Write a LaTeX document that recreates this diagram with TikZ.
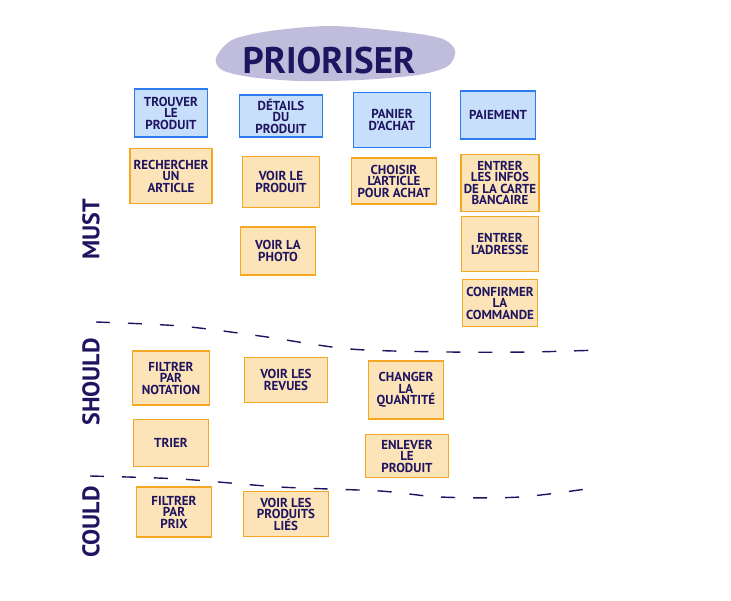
\documentclass[tikz,border=0pt]{standalone}
\usepackage{fontspec}
\setmainfont{PT Sans}
\usetikzlibrary{shapes,positioning}

\definecolor{encre}{RGB}{30,20,96}
\definecolor{nuage}{RGB}{192,188,220}
\definecolor{fondEpopee}{RGB}{200,223,251}
\definecolor{bordEpopee}{RGB}{44,123,240}
\definecolor{fondTache}{RGB}{253,228,184}
\definecolor{bordTache}{RGB}{245,166,35}

\begin{document}
\begin{tikzpicture}
	[x=1pt,y=-1pt,every node/.style={align=center,text=encre,
	font=\bfseries\fontsize{13}{11.5}\selectfont},
	tache/.style={draw=bordTache,fill=fondTache,line width=1.6pt,inner sep=1pt,
	minimum width=77pt,minimum height=48pt},
	epopee/.style={tache,draw=bordEpopee,fill=fondEpopee},
	bande/.style={rotate=90,font=\bfseries\fontsize{24}{24}\selectfont},
	limite/.style={draw=encre,line width=1.4pt,dash pattern=on 14pt off 18pt}]
	\useasboundingbox (0,0) rectangle (731,600);

	% titre
	\fill[nuage] plot[smooth cycle] coordinates {(216,58) (232,40) (270,31)
	(330,26) (395,31) (440,38) (455,50) (448,66) (418,75) (360,80) (300,81)
	(250,77) (222,70)};
	\node[font=\bfseries\fontsize{37}{37}\selectfont] (titre) at (329,61) {PRIORISER};

	% epopees
	\node[epopee,minimum width=73pt] (trouver) at (171,113) {TROUVER\\LE\\PRODUIT};
	\node[epopee,minimum width=83pt,minimum height=42pt] (details) at (281,116) {DÉTAILS\\DU\\PRODUIT};
	\node[epopee,minimum height=55pt] (panier) at (392,120) {PANIER\\D'ACHAT};
	\node[epopee,minimum width=75pt] (paiement) at (498,115) {PAIEMENT};

	% must
	\node[tache,minimum width=82pt,minimum height=55pt] (rechercher) at (171,176) {RECHERCHER\\UN\\ARTICLE};
	\node[tache,minimum height=51pt] (voirProduit) at (281,182) {VOIR LE\\PRODUIT};
	\node[tache,minimum width=85pt,minimum height=46pt] (choisir) at (394,181) {CHOISIR\\L'ARTICLE\\POUR ACHAT};
	\node[tache,minimum width=78pt,minimum height=57pt] (infos) at (500,183) {ENTRER\\LES INFOS\\DE LA CARTE\\BANCAIRE};
	\node[tache,minimum width=75pt] (photo) at (278,251) {VOIR LA\\PHOTO};
	\node[tache,minimum height=55pt] (adresse) at (500,244) {ENTRER\\L'ADRESSE};
	\node[tache,minimum width=75pt,minimum height=47pt] (confirmer) at (500,303) {CONFIRMER\\LA\\COMMANDE};

	% should
	\node[tache,minimum height=54pt] (notation) at (171,378) {FILTRER\\PAR\\NOTATION};
	\node[tache,minimum width=83pt,minimum height=45pt] (revues) at (286,380) {VOIR LES\\REVUES};
	\node[tache,minimum width=75pt,minimum height=58pt] (quantite) at (406,390) {CHANGER\\LA\\QUANTITÉ};
	\node[tache,minimum width=75pt,minimum height=47pt] (trier) at (171,443) {TRIER};
	\node[tache,minimum width=83pt,minimum height=43pt] (enlever) at (407,456) {ENLEVER\\LE\\PRODUIT};

	% could
	\node[tache,minimum width=75pt,minimum height=50pt] (prix) at (174,512) {FILTRER\\PAR\\PRIX};
	\node[tache,minimum width=85pt,minimum height=45pt] (lies) at (286,514) {VOIR LES\\PRODUITS\\LIÉS};

	% bandes
	\node[bande] (must) at (91,229) {MUST};
	\node[bande] (should) at (91,382) {SHOULD};
	\node[bande] (could) at (91,522) {COULD};

	\draw[limite] plot[smooth] coordinates {(96,322) (180,326) (260,336) (350,349)
	(450,352) (530,352) (600,350)};
	\draw[limite] plot[smooth] coordinates {(90,476) (180,479) (280,487) (380,491)
	(440,497) (520,497) (600,487)};
\end{tikzpicture}
\end{document}
